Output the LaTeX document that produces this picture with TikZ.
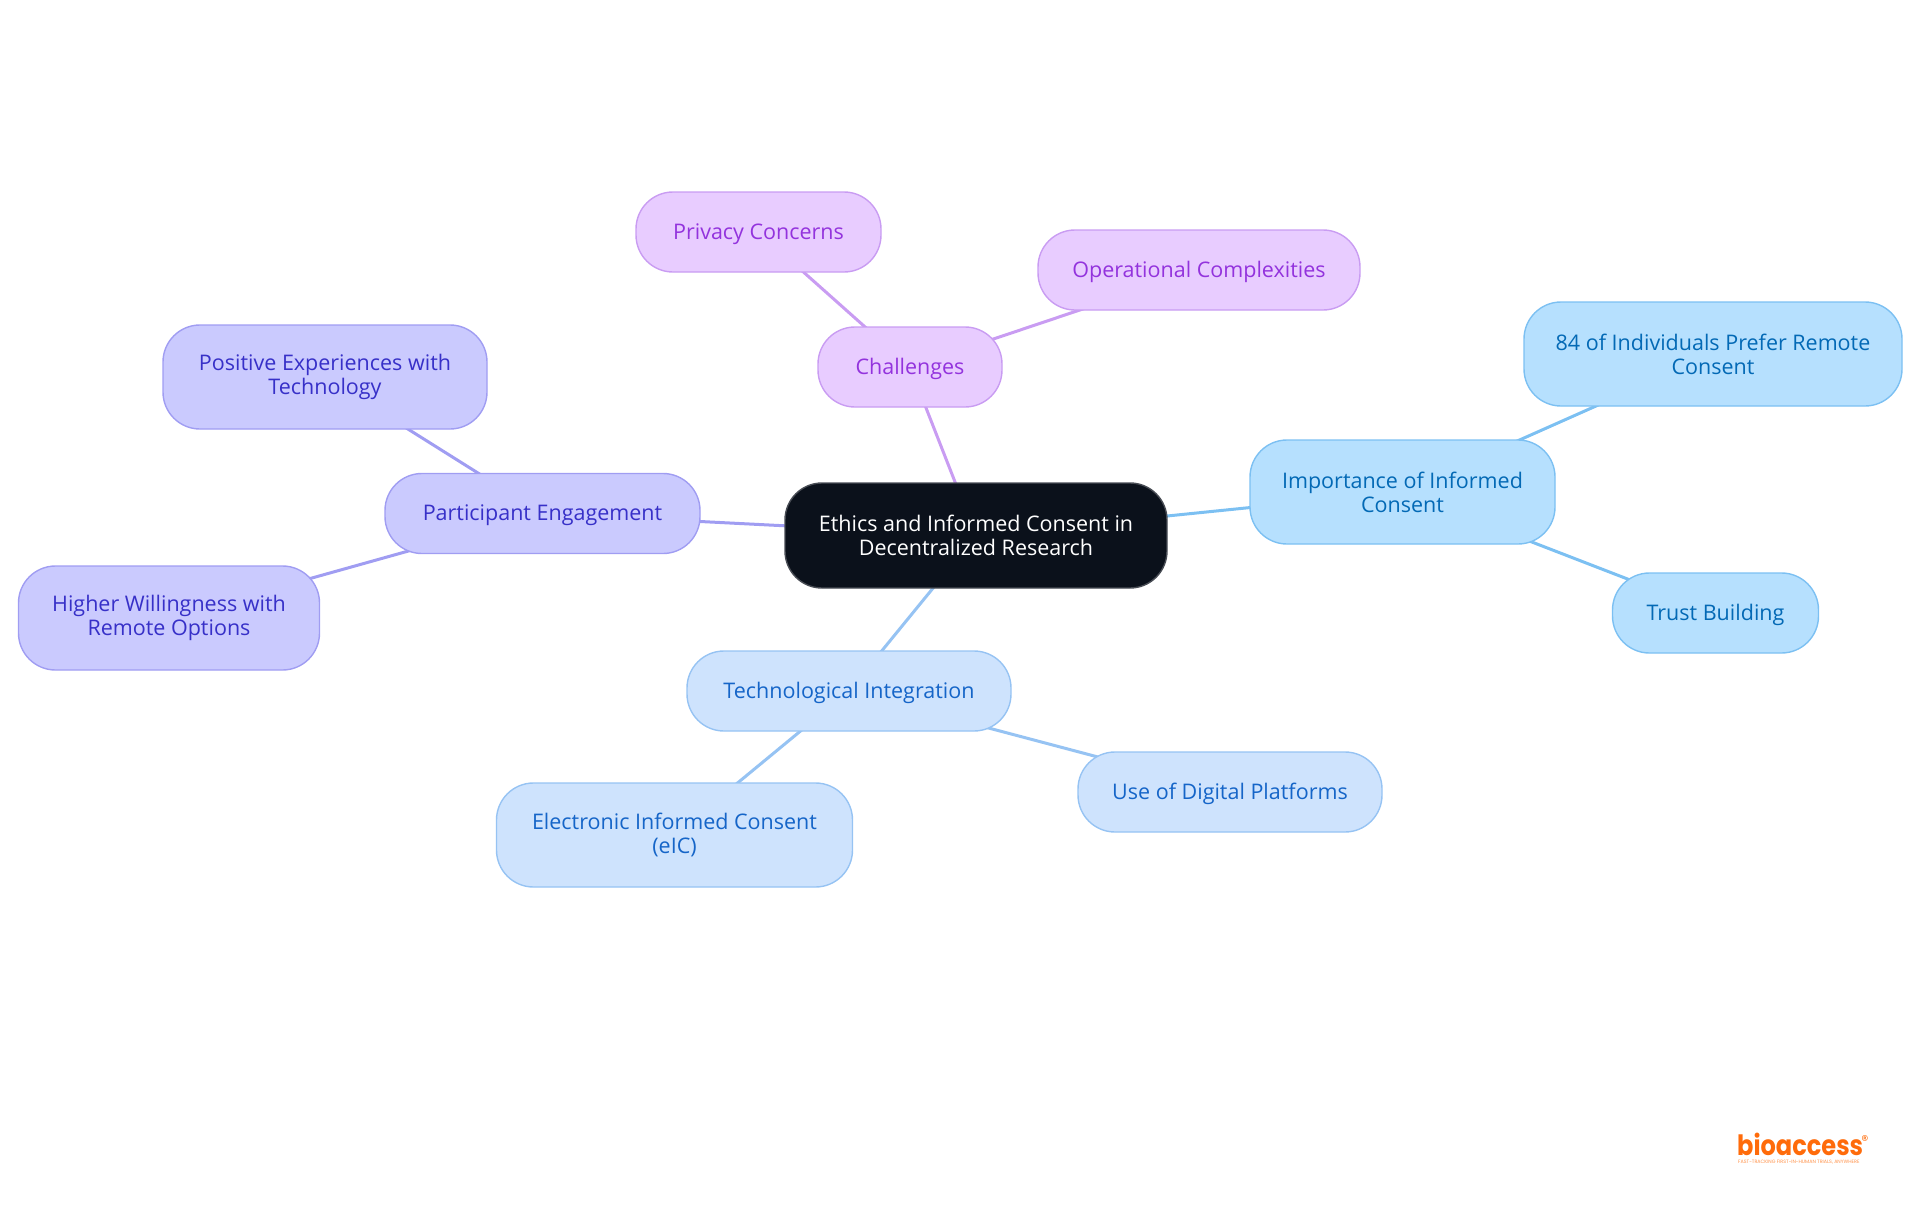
\documentclass[tikz,border=0pt]{standalone}
\usepackage{fontspec}
\setmainfont{Open Sans}
\newfontfamily\logofont{Poppins}
\usetikzlibrary{backgrounds}
\definecolor{rootfill}{HTML}{0B111B}
\definecolor{skyfill}{HTML}{B6E0FE}\definecolor{skyline}{HTML}{7CC0F2}\definecolor{skytext}{HTML}{0369B5}
\definecolor{purfill}{HTML}{E8CCFF}\definecolor{purline}{HTML}{C99CF2}\definecolor{purtext}{HTML}{9333DD}
\definecolor{indfill}{HTML}{CACAFE}\definecolor{indline}{HTML}{A09DF2}\definecolor{indtext}{HTML}{3730C8}
\definecolor{blufill}{HTML}{CEE3FD}\definecolor{bluline}{HTML}{96C3F3}\definecolor{blutext}{HTML}{1565C8}
\definecolor{logoor}{HTML}{FF6B0A}
\tikzset{x=1pt,y=-1pt,
 mm/.style={rounded corners=37pt,align=center,inner sep=0pt,line width=1.4pt,font=\fontsize{21.5}{24}\selectfont},
 sky/.style={mm,fill=skyfill,draw=skyline,text=skytext},
 pur/.style={mm,fill=purfill,draw=purline,text=purtext},
 ind/.style={mm,fill=indfill,draw=indline,text=indtext},
 blu/.style={mm,fill=blufill,draw=bluline,text=blutext},
 rootn/.style={mm,fill=rootfill,draw=rootfill!75!white,text=white},
 oneline/.style={text height=20pt,text depth=6pt},
 edgeline/.style={line width=3pt},
 sz/.style 2 args={minimum width=#1pt,minimum height=#2pt}
}
\begin{document}
\begin{tikzpicture}
\useasboundingbox (0,0) rectangle (1920,1215);
\node[rootn,sz={382}{105}] (root) at (976,535.5) {Ethics and Informed Consent in\\Decentralized Research};
\node[sky,sz={305}{104}] (imp) at (1402.5,492) {Importance of Informed\\Consent};
\node[sky,sz={378}{104}] (pref) at (1713,354) {84 of Individuals Prefer Remote\\Consent};
\node[sky,oneline,sz={206}{80}] (trust) at (1715.5,613) {Trust Building};
\node[pur,oneline,sz={184}{80}] (chal) at (910,367) {Challenges};
\node[pur,oneline,sz={245}{80}] (priv) at (758.5,232) {Privacy Concerns};
\node[pur,oneline,sz={322}{80}] (oper) at (1199,270) {Operational Complexities};
\node[ind,oneline,sz={315}{80}] (part) at (542.5,513.5) {Participant Engagement};
\node[ind,sz={324}{104}] (posi) at (325,377) {Positive Experiences with\\Technology};
\node[ind,sz={301}{104}] (high) at (169,618) {Higher Willingness with\\Remote Options};
\node[blu,oneline,sz={324}{80}] (tech) at (849,691) {Technological Integration};
\node[blu,sz={356}{104}] (eic) at (674.5,835) {Electronic Informed Consent\\(eIC)};
\node[blu,oneline,sz={304}{80}] (digi) at (1230,792) {Use of Digital Platforms};
\begin{scope}[on background layer]
\draw[edgeline,skyline] (root.center)--(imp.center);
\draw[edgeline,skyline] (imp.center)--(pref.center);
\draw[edgeline,skyline] (imp.center)--(trust.center);
\draw[edgeline,purline] (root.center)--(chal.center);
\draw[edgeline,purline] (chal.center)--(priv.center);
\draw[edgeline,purline] (chal.center)--(oper.center);
\draw[edgeline,indline] (root.center)--(part.center);
\draw[edgeline,indline] (part.center)--(posi.center);
\draw[edgeline,indline] (part.center)--(high.center);
\draw[edgeline,bluline] (root.center)--(tech.center);
\draw[edgeline,bluline] (tech.center)--(eic.center);
\draw[edgeline,bluline] (tech.center)--(digi.center);
\end{scope}
\node[inner sep=0pt,anchor=base west,text=logoor,xscale=.86,transform shape,font={\logofont\bfseries\fontsize{28}{28}\selectfont}] (logo) at (1737,1155) {bioaccess};
\node[inner sep=0pt,anchor=center,text=logoor,font={\logofont\fontsize{14}{14}\selectfont}] (reg) at (1865,1141) {®};
\node[inner sep=0pt,anchor=base west,text=logoor!75!white,font={\logofont\fontsize{4.8}{4.8}\selectfont}] (tag) at (1738,1163.5) {FAST-TRACKING FIRST-IN-HUMAN TRIALS, ANYWHERE};
\end{tikzpicture}
\end{document}
